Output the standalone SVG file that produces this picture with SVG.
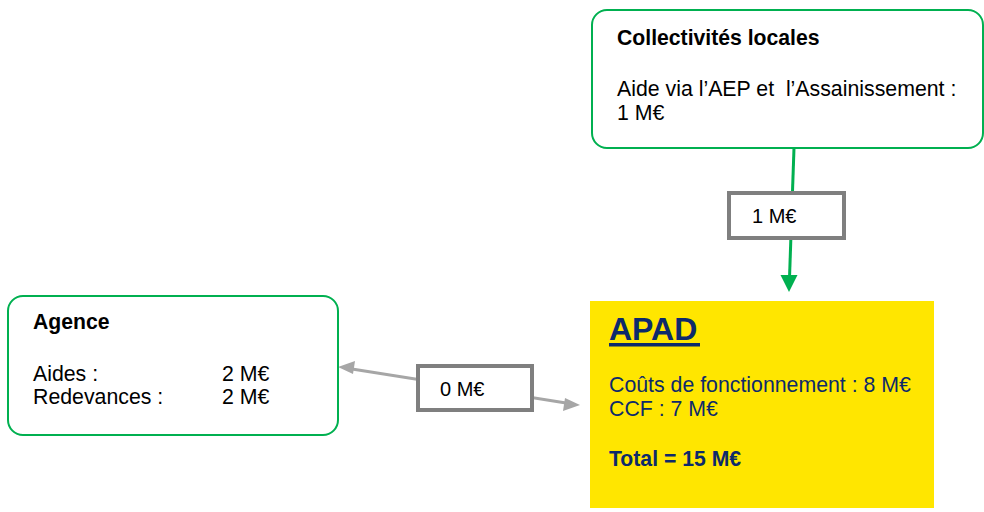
<svg xmlns="http://www.w3.org/2000/svg" width="984" height="512" viewBox="0 0 984 512">
<style>
text{font-family:"Liberation Sans",Arial,sans-serif;font-size:21.3px;fill:#000;white-space:pre}
.b{font-weight:bold;font-size:21.2px}
.gbox{fill:#fff;stroke:#00B050;stroke-width:2}
.lbl{fill:#fff;stroke:#7F7F7F;stroke-width:4}
.lt{font-size:20px}
.nav{fill:#0D2A6B}
</style>
<g id="connectors">
<line x1="794" y1="148" x2="789.5" y2="278" stroke="#00B050" stroke-width="3"/>
<path d="M780.5,275 L797.5,275 L789,292 z" fill="#00B050"/>
<line x1="352" y1="369" x2="566" y2="403" stroke="#A6A6A6" stroke-width="3"/>
<path d="M338,367 L355,361 L353,374 z" fill="#A6A6A6"/>
<path d="M580,405 L563,411 L565,398 z" fill="#A6A6A6"/>
</g>
<g id="collectivites">
<rect class="gbox" x="592" y="10" width="391" height="138" rx="15"/>
<text class="b" x="617" y="45">Collectivités locales</text>
<text x="617" y="96" xml:space="preserve">Aide via l’AEP et  l’Assainissement :</text>
<text x="617" y="120">1 M€</text>
</g>
<g id="label-1">
<rect class="lbl" x="729" y="193" width="115" height="45"/>
<text class="lt" x="752" y="223">1 M€</text>
</g>
<g id="agence">
<rect class="gbox" x="8" y="296" width="330" height="139" rx="15"/>
<text class="b" x="33" y="329">Agence</text>
<text x="33" y="381">Aides :</text>
<text x="222" y="381">2 M€</text>
<text x="33" y="404">Redevances :</text>
<text x="222" y="404">2 M€</text>
</g>
<g id="label-0">
<rect class="lbl" x="418" y="366" width="114" height="44"/>
<text class="lt" x="440" y="396">0 M€</text>
</g>
<g id="apad">
<rect x="590" y="301" width="344" height="207" fill="#FFE600"/>
<text class="b nav" x="609" y="340" style="font-size:32px">APAD</text>
<rect x="609" y="343" width="91" height="3.5" fill="#0D2A6B"/>
<text class="nav" x="609" y="392">Coûts de fonctionnement : 8 M€</text>
<text class="nav" x="609" y="416">CCF : 7 M€</text>
<text class="b nav" x="609" y="466">Total = 15 M€</text>
</g>
</svg>
